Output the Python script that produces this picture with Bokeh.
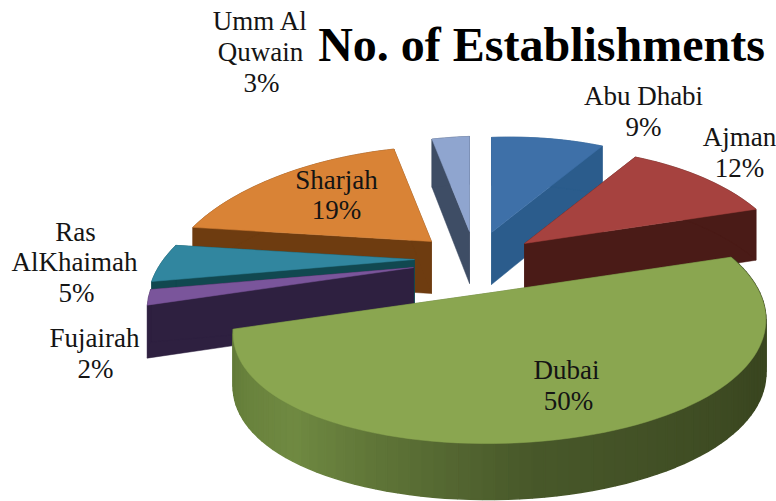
import numpy as np
from bokeh.plotting import figure
from bokeh.models import ColumnDataSource
from bokeh.core.properties import value
from bokeh.embed import file_html
from bokeh.resources import INLINE

# ---------- data ----------
title_text = "No. of Establishments"
regions = ["Abu Dhabi", "Ajman", "Dubai", "Fujairah", "Ras AlKhaimah", "Sharjah", "Umm Al Quwain"]
shares = [9, 12, 50, 2, 5, 19, 3]

# ---------- style / layout ----------
top_colors = ["#3E70A8", "#A6423F", "#8AA650", "#7A559B", "#31869F", "#D98336", "#8FA5CF"]
wall_colors = ["#2B5C8C", "#4A1B17", "#5A7036", "#2E2040", "#114850", "#6E3C10", "#3E4D65"]
slice_centres = [(491, 232), (524, 243), (499, 291), (413, 267), (414, 259), (431, 241), (469, 231)]
draw_order = [6, 0, 5, 1, 4, 3, 2]
label_lines = [
    ("Abu Dhabi", 643, 95), ("9%", 643, 126),
    ("Ajman", 739, 136), ("12%", 739, 167),
    ("Dubai", 566, 369), ("50%", 568, 400),
    ("Fujairah", 94, 337), ("2%", 95, 368),
    ("Ras", 75, 231), ("AlKhaimah", 74, 261), ("5%", 76, 292),
    ("Sharjah", 336, 179), ("19%", 336, 209),
    ("Umm Al", 260, 20), ("Quwain", 260, 51), ("3%", 261, 82),
]
R, P, K, Q, S, DEPTH = 255.7, 0.28, 117.0, 0.23, 7.0, 52.0


def project(cx, cy, theta):
    u, v = np.sin(theta), np.cos(theta)
    x = cx + R * u / (1 + P * v)
    y = cy - K * v / (1 + Q * v) - S * u
    return x, y, DEPTH - 4 * v


W = 776
H = 501
p = figure(width=W, height=H, x_range=(0, W), y_range=(H, 0),
           output_backend="svg", toolbar_location=None, min_border=0)
p.axis.visible = False
p.grid.visible = False
p.outline_line_color = None
p.background_fill_color = "white"

edges = np.cumsum([0] + shares) / sum(shares) * 2 * np.pi


def quad_color(t):
    stops_t = [0.0, 0.25, 0.55, 0.8, 1.0]
    stops = np.array([[60, 75, 34], [58, 70, 32], [72, 88, 42], [112, 138, 66], [98, 122, 56]])
    return "#%02x%02x%02x" % tuple(int(np.interp(t, stops_t, stops[:, i])) for i in range(3))


for i in draw_order:
    cx, cy = slice_centres[i]
    a0, a1 = edges[i], edges[i + 1]
    n = max(3, int((a1 - a0) / np.radians(2)))
    th = np.linspace(a0, a1, n)
    ax, ay, ad = project(cx, cy, th)
    d_apex = DEPTH
    # cut faces
    for k in (0, -1):
        xs = [cx, ax[k], ax[k], cx]
        ys = [cy, ay[k], ay[k] + ad[k], cy + d_apex]
        p.patch(xs, ys, fill_color=wall_colors[i], line_color=wall_colors[i], line_width=0.5)
    # rim
    if regions[i] == "Dubai":
        for j in range(n - 1):
            col = quad_color(j / (n - 2))
            xs = [ax[j], ax[j + 1], ax[j + 1], ax[j]]
            ys = [ay[j], ay[j + 1], ay[j + 1] + ad[j + 1], ay[j] + ad[j]]
            p.patch(xs, ys, fill_color=col, line_color=col, line_width=1.5)
    else:
        xs = list(ax) + list(ax[::-1])
        ys = list(ay) + list((ay + ad)[::-1])
        p.patch(xs, ys, fill_color=wall_colors[i], line_color=wall_colors[i], line_width=0.5)
    # top
    p.patch([cx] + list(ax), [cy] + list(ay), fill_color=top_colors[i],
            line_color=top_colors[i], line_width=0.5)

src = ColumnDataSource(dict(t=[l[0] for l in label_lines],
                            x=[l[1] for l in label_lines],
                            y=[l[2] for l in label_lines]))
p.text("x", "y", text="t", source=src, text_font=value("Liberation Serif"),
       text_font_size="27px", text_align="center", text_baseline="middle", text_color="#141414")
p.text([541], [44], text=[title_text], text_font=value("Liberation Serif"), text_font_style="bold",
       text_font_size="48px", text_align="center", text_baseline="middle", text_color="#000000")

open("out.html", "w").write(file_html(p, INLINE))
